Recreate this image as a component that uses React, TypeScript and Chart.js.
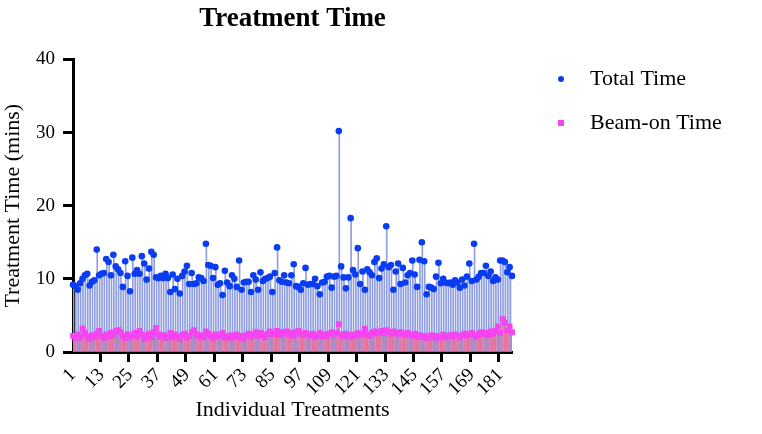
import { useEffect, useRef } from 'react';
import { Chart, registerables } from 'chart.js';

Chart.register(...registerables);

// Treatment numbers along the x axis (1 … 186)
const treatments: string[] = Array.from({ length: 186 }, (_, i) => String(i + 1));

// Only these treatment numbers get a tick mark and label
const xTickLabels = ['1', '13', '25', '37', '49', '61', '73', '85', '97', '109', '121', '133', '145', '157', '169', '181'];

// Y axis ticks (minutes)
const yTicks = [0, 10, 20, 30, 40];

// Total treatment time per treatment (mins)
const totalTime = [
  9.2, 9.0, 8.5, 9.4, 10.0, 10.5, 10.7, 9.1, 9.6, 9.8,
  14.0, 10.5, 10.7, 10.8, 12.7, 12.3, 10.5, 13.3, 11.7, 11.3,
  10.8, 8.9, 12.4, 10.4, 8.3, 12.9, 10.7, 11.2, 10.7, 13.1,
  12.1, 9.9, 11.4, 13.7, 13.3, 10.2, 10.1,
  10.4, 10.1, 10.7, 10.1, 8.2, 10.6, 8.6, 10.0, 8.0, 10.4,
  11.0, 11.8, 9.3, 10.8, 9.3, 9.4, 10.2, 10.1, 9.7, 14.8,
  11.9, 11.8, 10.1, 11.6, 9.2, 9.4, 7.8, 11.1, 9.5, 9.0,
  10.5, 10.0, 8.9, 12.5, 8.5, 9.5, 9.6,
  9.6, 8.2, 10.5, 9.9, 8.5, 10.9, 9.7, 10.0, 10.1, 10.3,
  8.2, 10.8, 14.3, 9.8, 9.6, 10.5, 9.5, 9.4, 10.5, 12.0,
  9.0, 8.9, 8.5, 9.4, 11.5, 9.2, 9.3, 9.3, 10.0, 9.0,
  7.9, 9.5, 9.6, 10.3, 10.4, 8.8, 10.3,
  10.4, 30.2, 11.7, 10.2, 8.7, 10.2, 18.3, 11.2, 10.6, 14.2,
  9.3, 11.0, 8.5, 11.3, 10.9, 10.5, 12.3, 12.8, 10.1, 11.4,
  12.0, 17.2, 11.6, 11.9, 8.5, 11.0, 12.1, 9.3, 11.5, 9.5,
  10.5, 10.8, 12.5, 10.6, 8.9, 12.6, 15.0, 12.4,
  7.9, 8.9, 8.8, 8.6, 10.3, 12.2, 9.4, 10.0, 9.5, 9.4,
  9.5, 9.2, 9.8, 9.5, 8.8, 9.9, 9.1, 10.3, 12.1, 9.7,
  14.8, 9.9, 10.3, 10.8, 10.8, 11.8, 10.4, 11.0, 9.7, 10.2,
  9.9, 12.5, 12.5, 12.3, 10.9, 11.6, 10.4,
];

// Beam-on time per treatment (mins)
const beamOnTime = [
  2.2, 1.9, 2.4, 2.0, 3.2, 2.6, 2.1, 1.8, 2.3, 2.0, 2.5, 2.9, 2.2, 1.9, 2.4, 2.1, 2.6, 2.3, 2.9, 3.0,
  2.7, 2.2, 1.9, 2.4, 2.0, 2.3, 2.6, 2.1, 2.9, 2.4, 1.8, 2.2, 2.5, 2.0, 2.7, 3.3, 2.4, 2.1, 2.3, 1.9,
  2.2, 2.6, 2.0, 2.4, 2.1, 1.8, 2.3, 2.5, 2.0, 2.2, 2.7, 3.0, 2.4, 2.1, 2.3, 2.0, 2.8, 2.5, 2.2, 1.9,
  2.4, 2.1, 2.3, 2.6, 2.0, 2.2, 1.9, 2.3, 2.1, 2.4, 2.0, 2.2, 1.8, 2.3, 2.5, 2.1, 2.4, 2.7, 2.2, 2.6,
  2.3, 2.0, 2.5, 2.8, 2.4, 2.6, 2.9, 2.3, 2.7, 2.5, 2.8, 2.4, 2.6, 2.2, 2.7, 2.9, 2.5, 2.3, 2.6, 2.4,
  2.2, 2.5, 2.0, 2.3, 2.6, 2.1, 2.4, 2.2, 2.5, 2.7, 2.3, 2.6, 3.8, 2.4, 2.1, 2.5, 2.3, 2.0, 2.4, 2.2,
  2.6, 2.3, 2.5, 3.2, 2.4, 2.2, 2.6, 2.8, 2.5, 2.7, 2.9, 2.6, 3.0, 2.7, 2.5, 2.8, 2.6, 2.4, 2.7, 2.5,
  2.3, 2.6, 2.4, 2.2, 2.5, 2.1, 2.3, 2.0, 2.2, 1.9, 2.1, 2.3, 2.0, 2.2, 1.9, 2.1, 2.4, 2.0, 2.2, 2.3,
  2.1, 2.4, 2.2, 2.0, 2.3, 2.5, 2.2, 2.4, 2.6, 2.3, 2.1, 2.5, 2.7, 2.4, 2.6, 2.3, 2.8, 2.5, 2.9, 3.5,
  2.6, 4.5, 4.0, 3.0, 3.5, 2.7,
];

const FONT = '"Liberation Serif", "Times New Roman", serif';
const TOTAL_COLOR = '#0a3cf2';
const BEAM_COLOR = '#f545f0';
const TOTAL_STEM = '#8f9ee0';
const BEAM_STEM = '#e2739f';

// Legend drawn to the right of the plot, using the marker datasets
const sideLegend = {
  id: 'sideLegend',
  afterDraw(chart: any) {
    const ctx = chart.ctx as CanvasRenderingContext2D;
    const items = chart.data.datasets.filter((d: any) => d.type === 'line');
    ctx.save();
    ctx.font = `22px ${FONT}`;
    ctx.textBaseline = 'middle';
    ctx.textAlign = 'left';
    items.forEach((d: any, i: number) => {
      const cy = 79 + i * 44;
      const cx = 561;
      ctx.fillStyle = d.pointBackgroundColor;
      if (d.pointStyle === 'rect') {
        ctx.fillRect(cx - 3, cy - 3, 6, 6);
      } else {
        ctx.beginPath();
        ctx.arc(cx, cy, 3, 0, Math.PI * 2);
        ctx.fill();
      }
      ctx.fillStyle = '#000';
      ctx.fillText(d.label, 590, cy);
    });
    ctx.restore();
  },
};

export default function App() {
  const canvasRef = useRef<HTMLCanvasElement | null>(null);

  useEffect(() => {
    const canvas = canvasRef.current;
    if (!canvas) return;
    const chart = new Chart(canvas, {
      type: 'bar',
      data: {
        labels: treatments,
        datasets: [
          {
            type: 'bar',
            label: 'Total stem',
            data: totalTime,
            backgroundColor: TOTAL_STEM,
            barThickness: 1,
            order: 3,
          },
          {
            type: 'bar',
            label: 'Beam stem',
            data: beamOnTime,
            backgroundColor: BEAM_STEM,
            barThickness: 1,
            order: 2,
          },
          {
            type: 'line',
            label: 'Total Time',
            data: totalTime,
            showLine: false,
            pointStyle: 'circle',
            pointRadius: 3.3,
            pointBorderWidth: 0,
            pointBackgroundColor: TOTAL_COLOR,
            borderColor: TOTAL_COLOR,
            clip: 8,
            order: 1,
          },
          {
            type: 'line',
            label: 'Beam-on Time',
            data: beamOnTime,
            showLine: false,
            pointStyle: 'rect',
            pointRadius: 4.1,
            pointBorderWidth: 0,
            pointBackgroundColor: BEAM_COLOR,
            borderColor: BEAM_COLOR,
            clip: 8,
            order: 0,
          },
        ] as any,
      },
      options: {
        responsive: false,
        animation: false,
        events: [],
        devicePixelRatio: 1,
        layout: { padding: { left: 0, right: 250, top: 0, bottom: 7 } },
        plugins: {
          legend: { display: false },
          tooltip: { enabled: false },
          title: {
            display: true,
            text: 'Treatment Time',
            color: '#000',
            fullSize: false,
            font: { family: FONT, size: 27, weight: 'bold' },
            padding: { top: 3, bottom: 24 },
          },
        },
        scales: {
          x: {
            type: 'category',
            offset: false,
            afterFit: (s: any) => {
              s.height = 75;
            },
            border: { display: true, color: '#000', width: 3 },
            grid: {
              display: true,
              drawOnChartArea: false,
              drawTicks: true,
              tickLength: 10,
              tickWidth: 3,
              tickColor: (ctx: any) =>
                xTickLabels.includes(treatments[ctx.index]) ? '#000' : 'rgba(0,0,0,0)',
            },
            ticks: {
              autoSkip: false,
              maxRotation: 45,
              minRotation: 45,
              padding: 2,
              color: '#000',
              font: { family: FONT, size: 19 },
              callback: (_v: any, i: number) =>
                xTickLabels.includes(treatments[i]) ? treatments[i] : '',
            },
            title: {
              display: true,
              text: 'Individual Treatments',
              color: '#000',
              font: { family: FONT, size: 22 },
              padding: { top: 0, bottom: 4 },
            },
          },
          y: {
            min: 0,
            max: 40,
            afterFit: (s: any) => {
              s.width = 73;
            },
            afterBuildTicks: (s: any) => {
              s.ticks = yTicks.map((v) => ({ value: v }));
            },
            border: { display: true, color: '#000', width: 3 },
            grid: {
              display: true,
              drawOnChartArea: false,
              drawTicks: true,
              tickLength: 10,
              tickWidth: 3,
              tickColor: '#000',
            },
            ticks: {
              padding: 8,
              color: '#000',
              font: { family: FONT, size: 19 },
            },
            title: {
              display: true,
              text: 'Treatment Time (mins)',
              color: '#000',
              font: { family: FONT, size: 22 },
              padding: { top: 0, bottom: 0 },
            },
          },
        },
      } as any,
      plugins: [sideLegend],
    });
    return () => chart.destroy();
  }, []);

  return (
    <canvas
      ref={canvasRef}
      width={762}
      height={434}
      style={{ position: 'absolute', left: 0, top: 0, width: 762, height: 434 }}
    />
  );
}
